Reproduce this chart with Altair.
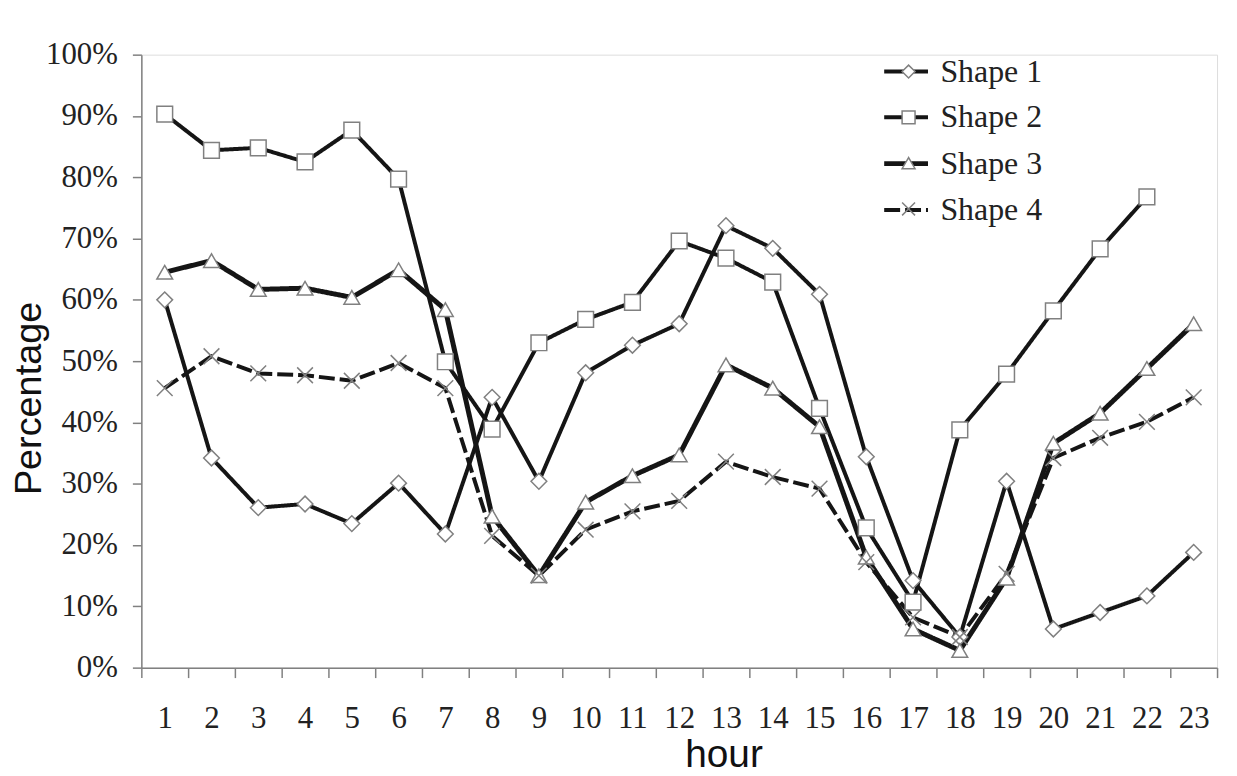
import altair as alt
import pandas as pd

hours = list(range(1, 24))
series_names = ["Shape 1", "Shape 2", "Shape 3", "Shape 4"]
shape1 = [60, 34.2, 26.1, 26.7, 23.5, 30.1, 21.8, 44.1, 30.4, 48.1, 52.6, 56.1, 72.1, 68.4, 60.9,
          34.4, 14.2, 5, 30.4, 6.3, 9, 11.7, 18.8]
shape2 = [90.3, 84.4, 84.8, 82.5, 87.7, 79.7, 49.9, 38.9, 53, 56.8, 59.6, 69.6, 66.8, 62.9, 42.3,
          22.8, 10.7, 38.8, 47.9, 58.2, 68.3, 76.8, None]
shape3 = [64.5, 66.4, 61.7, 61.9, 60.4, 64.9, 58.4, 24.7, 15, 27, 31.3, 34.7, 49.4, 45.6, 39.3,
          18, 6.3, 2.8, 14.6, 36.6, 41.5, 48.8, 56.1]
shape4 = [45.6, 50.8, 48, 47.7, 46.8, 49.7, 45.6, 21.5, 15, 22.5, 25.5, 27.2, 33.6, 31.1, 29.2,
          17.2, 8.2, 5, 15.3, 34.2, 37.5, 40.1, 44.1]

rows = []
for name, vals in zip(series_names, [shape1, shape2, shape3, shape4]):
    for h, v in zip(hours, vals):
        if v is not None:
            rows.append({"series": name, "hour": h, "value": v / 100.0})
df = pd.DataFrame(rows)

LINE = "#151515"
MARK = "#808080"
SERIF = "Liberation Serif"
SANS = "Liberation Sans"

x_enc = alt.X(
    "hour:O",
    scale=alt.Scale(type="band", paddingInner=0, paddingOuter=0),
    axis=alt.Axis(
        title="hour", labelAngle=0, tickBand="extent", tickSize=10, labelPadding=26,
        labelFont=SERIF, labelFontSize=31, labelColor="#222",
        titleFont=SANS, titleFontSize=39, titleFontWeight="normal", titleColor="#111",
        titleX=585, titleY=99, titleBaseline="alphabetic", titleAlign="center",
        domainColor=MARK, domainWidth=1.5, tickColor=MARK, tickWidth=1.5, grid=False,
    ),
)
y_enc = alt.Y(
    "value:Q",
    scale=alt.Scale(domain=[0, 1], nice=False, zero=True),
    axis=alt.Axis(
        title="Percentage", format=".0%", values=[i / 10 for i in range(11)],
        tickSize=9, labelPadding=15,
        labelFont=SERIF, labelFontSize=31, labelColor="#222",
        titleFont=SANS, titleFontSize=38, titleFontWeight="normal", titleColor="#111",
        titleX=-93, titleY=345, titleBaseline="bottom", titleAlign="center",
        domainColor=MARK, domainWidth=1.5, tickColor=MARK, tickWidth=1.5, grid=False,
    ),
)

line_legend = alt.Legend(
    orient="none", legendX=744, legendY=-7, title=None, padding=0,
    symbolType="stroke", symbolSize=1936, symbolStrokeColor=LINE,
    labelFont=SERIF, labelFontSize=32, labelColor="#222", labelOffset=10,
    rowPadding=6,
)

lines = alt.Chart(df).mark_line(color=LINE).encode(
    x=x_enc,
    y=y_enc,
    strokeDash=alt.StrokeDash(
        "series:N",
        scale=alt.Scale(domain=series_names, range=[[1, 0], [1, 0], [1, 0], [16, 5]]),
        legend=line_legend,
    ),
    strokeWidth=alt.StrokeWidth(
        "series:N",
        scale=alt.Scale(type="ordinal", domain=series_names, range=[4, 4, 5, 4]),
        legend=line_legend,
    ),
    detail="series:N",
)

shape_legend = alt.Legend(
    orient="none", legendX=755, legendY=1, title=None, padding=0,
    symbolSize=169, symbolStrokeWidth=1.5, symbolFillColor="white",
    labelFont=SERIF, labelFontSize=32, labelOpacity=0, labelOffset=10,
    rowPadding=14, zindex=2,
)

points = alt.Chart(df).mark_point(
    filled=True, fill="white", stroke=MARK, strokeWidth=1.5, size=250, opacity=1
).encode(
    x=x_enc,
    y=y_enc,
    shape=alt.Shape(
        "series:N",
        scale=alt.Scale(range=["diamond", "square", "triangle-up", "M-1,-1L1,1M-1,1L1,-1"]),
        legend=shape_legend,
    ),
)

chart = alt.layer(lines, points).properties(
    width=1081, height=616,
    autosize=alt.AutoSizeParams(type="none"),
    padding={"left": 134, "top": 45, "right": 12, "bottom": 106},
).configure_view(stroke=None).configure(background="white")

chart.save("out.html", embed_options={"renderer": "svg", "actions": False})
